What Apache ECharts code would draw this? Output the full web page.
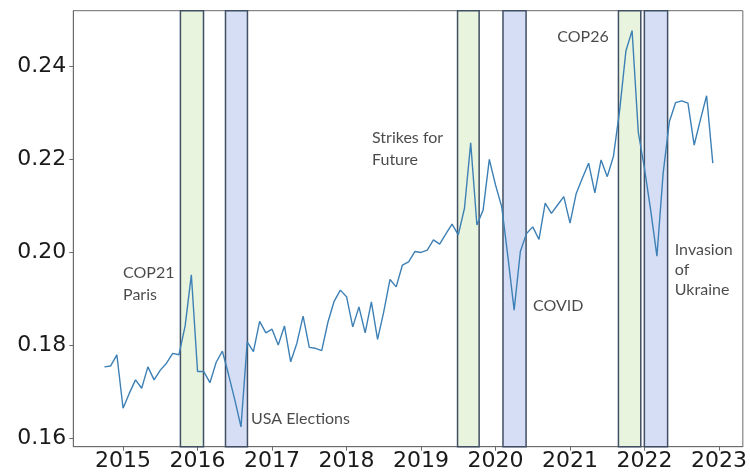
<!DOCTYPE html>
<html>
<head>
<meta charset="utf-8">
<script src="https://cdn.jsdelivr.net/npm/echarts@6/dist/echarts.min.js"></script>
<style>html,body{margin:0;padding:0;background:#fff}#chart{width:750px;height:474px}</style>
</head>
<body>
<div id="chart"></div>
<script>
// Monthly series, first month = 2014-10
const startYear = 2014, startMonth = 10;
const values = [
  0.1754, 0.1756, 0.1780,
  0.1665, 0.1697, 0.1726, 0.1708, 0.1754, 0.1726, 0.1747, 0.1762, 0.1783, 0.1780, 0.1842, 0.1952,
  0.1744, 0.1744, 0.1720, 0.1764, 0.1788, 0.1737, 0.1683, 0.1625, 0.1808, 0.1787, 0.1852, 0.1827,
  0.1835, 0.1801, 0.1842, 0.1765, 0.1805, 0.1863, 0.1796, 0.1794, 0.1789, 0.1850, 0.1895, 0.1919,
  0.1905, 0.1840, 0.1883, 0.1827, 0.1894, 0.1813, 0.1873, 0.1942, 0.1926, 0.1973, 0.1980, 0.2002,
  0.2000, 0.2005, 0.2027, 0.2018, 0.2040, 0.2061, 0.2038, 0.2095, 0.2236, 0.2059, 0.2091, 0.2200,
  0.2145, 0.2098, 0.1990, 0.1876, 0.2002, 0.2041, 0.2055, 0.2028, 0.2106, 0.2084, 0.2102, 0.2120,
  0.2063, 0.2127, 0.2160, 0.2192, 0.2128, 0.2199, 0.2163, 0.2207, 0.2306, 0.2433, 0.2477, 0.2258,
  0.2180, 0.2090, 0.1992, 0.2170, 0.2281, 0.2322, 0.2326, 0.2321, 0.2231, 0.2285, 0.2337, 0.2192
];
// Event bands: [start (fractional year), end, kind]
const bandStarts = [2015.77, 2016.375, 2019.49, 2020.10, 2021.65, 2021.998];
const bandEnds   = [2016.08, 2016.67, 2019.78, 2020.41, 2021.95, 2022.31];
const bandKinds  = ['green', 'blue', 'green', 'blue', 'green', 'blue'];
// Annotations: text, anchor (top-left) in data units
const noteTexts = ['COP21\nParis', 'USA Elections', 'Strikes for\nFuture', 'COVID', 'COP26', 'Invasion\nof\nUkraine'];
const noteX = [2015.0, 2016.717, 2018.342, 2020.504, 2020.829, 2022.406];
const noteY = [0.1979, 0.1667, 0.2271, 0.1909, 0.2488, 0.2028];
const noteLineHeights = [22, 22, 22, 22, 22, 20];

const xMin = 2014.332, xMax = 2023.32;
const yMin = 0.15824, yMax = 0.25198;

const lineData = values.map((v, i) => {
  const m = startMonth - 1 + i;
  return [startYear + Math.floor(m / 12) + (m % 12) / 12, v];
});

const bandFill = { green: '#e8f4de', blue: '#d5def4' };
const markAreaData = bandStarts.map((s, i) => [
  { xAxis: s, itemStyle: { color: bandFill[bandKinds[i]], borderColor: '#404f64', borderWidth: 1.5 } },
  { xAxis: bandEnds[i] }
]);

const noteData = noteTexts.map((t, i) => ({
  value: [noteX[i], noteY[i]],
  label: { formatter: t, lineHeight: noteLineHeights[i] }
}));

const chart = echarts.init(document.getElementById('chart'), null, { renderer: 'canvas' });
chart.setOption({
  animation: false,
  backgroundColor: '#ffffff',
  grid: { left: 73.3, top: 10.7, right: 4.4, bottom: 27.3, show: true, borderColor: '#6b6b6b', borderWidth: 1, backgroundColor: 'transparent' },
  xAxis: {
    type: 'value', min: xMin, max: xMax, splitNumber: 8,
    axisLine: { show: true, lineStyle: { color: '#6b6b6b', width: 1 } },
    axisTick: { show: true, length: 4, lineStyle: { color: '#6b6b6b' } },
    splitLine: { show: false },
    axisLabel: {
      showMinLabel: false, showMaxLabel: false, margin: 4,
      fontFamily: 'DejaVu Sans', fontSize: 22, color: '#1a1a1a',
      formatter: v => (Math.abs(v - Math.round(v)) < 1e-6 ? String(Math.round(v)) : '')
    }
  },
  yAxis: {
    type: 'value', min: yMin, max: yMax,
    axisLine: { show: true, lineStyle: { color: '#6b6b6b', width: 1 } },
    axisTick: { show: true, length: 4, lineStyle: { color: '#6b6b6b' } },
    splitLine: { show: false },
    axisLabel: {
      showMinLabel: false, showMaxLabel: false, margin: 7,
      fontFamily: 'DejaVu Sans', fontSize: 22, color: '#1a1a1a',
      formatter: v => (Math.abs(v * 50 - Math.round(v * 50)) < 1e-6 ? v.toFixed(2) : '')
    }
  },
  series: [
    {
      type: 'line', data: lineData, showSymbol: false, smooth: false,
      lineStyle: { color: '#3d80b6', width: 1.4 },
      z: 3,
      markArea: { silent: true, data: markAreaData }
    },
    {
      type: 'scatter', data: noteData, symbolSize: 0, silent: true, z: 5,
      itemStyle: { color: 'rgba(0,0,0,0)' },
      label: {
        show: true, position: [0, 0], align: 'left', verticalAlign: 'top',
        fontFamily: 'Lato', fontSize: 16, color: '#1c1c1c'
      }
    }
  ]
});
</script>
</body>
</html>
